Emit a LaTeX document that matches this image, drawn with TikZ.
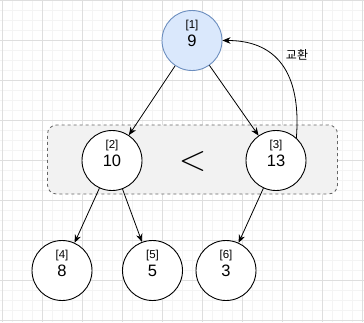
\documentclass[tikz,border=0pt]{standalone}
\usepackage{fontspec}
\setmainfont{Liberation Sans}
\newfontfamily\krfont{Noto Sans CJK KR}
\usetikzlibrary{arrows.meta}
\definecolor{minorgrid}{HTML}{F4F4F4}
\definecolor{majorgrid}{HTML}{DEDEDE}
\definecolor{rootfill}{HTML}{DAE8FC}
\definecolor{rootdraw}{HTML}{6C8EBF}
\definecolor{boxfill}{HTML}{F2F2F2}
\definecolor{boxdraw}{HTML}{666666}
\tikzset{
  heapnode/.style={circle, draw=black, fill=white, line width=0.9pt, minimum size=60pt, inner sep=0pt, font=\fontsize{16.5}{16.5}\selectfont},
  rootnode/.style={heapnode, draw=rootdraw, fill=rootfill},
  edgearrow/.style={draw=black, line width=0.8pt, -{Stealth[length=8pt,width=6.5pt,inset=2.5pt]}},
  idx/.style={font=\fontsize{11.5}{11.5}\selectfont, inner sep=0pt, yshift=15pt}
}
\begin{document}
\begin{tikzpicture}[x=1pt,y=-1pt]
\useasboundingbox (0,0) rectangle (364,322);
\fill[white] (0,0) rectangle (364,322);
% grid
\foreach \x in {2,12,...,362} \draw[minorgrid, line width=0.8pt] (\x,0) -- (\x,322);
\foreach \y in {0,10,...,320} \draw[minorgrid, line width=0.8pt] (0,\y) -- (364,\y);
\foreach \x in {2,42,...,362} \draw[majorgrid, line width=0.8pt] (\x,0) -- (\x,322);
\foreach \y in {0,40,...,320} \draw[majorgrid, line width=0.8pt] (0,\y) -- (364,\y);
% dashed group box
\node[draw=boxdraw, fill=boxfill, dashed, rounded corners=9pt, line width=0.8pt, minimum width=290pt, minimum height=69pt, inner sep=0pt] (grp) at (192.5,159.5) {};
% nodes
\node[rootnode, label={[idx]center:[1]}] (n1) at (192,40.5) {9};
\node[heapnode, label={[idx]center:[2]}] (n2) at (112,160.5) {10};
\node[heapnode, label={[idx]center:[3]}] (n3) at (276,160.5) {13};
\node[heapnode, label={[idx]center:[4]}] (n4) at (62,270.5) {8};
\node[heapnode, label={[idx]center:[5]}] (n5) at (152.5,270.5) {5};
\node[heapnode, label={[idx]center:[6]}] (n6) at (226,270.5) {3};
\node[font=\Huge, inner sep=0pt, scale=1.45] (lt) at (192.5,161) {$<$};
% edges
\draw[edgearrow] (n1) -- (n2);
\draw[edgearrow] (n1) -- (n3);
\draw[edgearrow] (n2) -- (n4);
\draw[edgearrow] (n2) -- (n5);
\draw[edgearrow] (n3) -- (n6);
\draw[edgearrow] (n3.48) .. controls (301,80) and (282,40.5) .. (n1.east);
\node[font=\krfont\fontsize{12}{12}\selectfont, inner sep=0pt] (swap) at (297,55) {교환};
\end{tikzpicture}
\end{document}
